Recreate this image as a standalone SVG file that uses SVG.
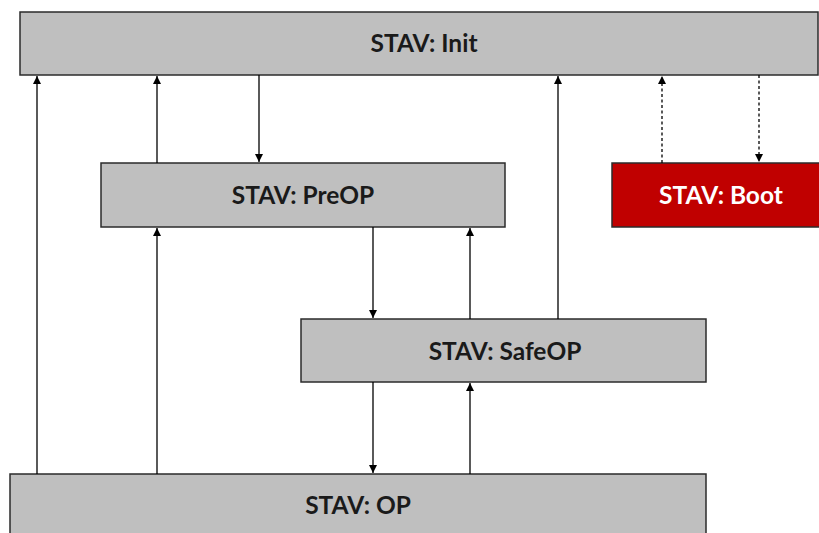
<svg xmlns="http://www.w3.org/2000/svg" width="819" height="533" viewBox="0 0 819 533">
<defs>
<marker id="ah" viewBox="0 0 8 10" refX="8" refY="5" markerWidth="8" markerHeight="10" markerUnits="userSpaceOnUse" orient="auto">
<path d="M0,1 L8,5 L0,9 Z" fill="#000"/>
</marker>
<style>
.box{fill:#BFBFBF;stroke:#2b2b2b;stroke-width:1.5}
.red{fill:#C00000;stroke:#2b2b2b;stroke-width:1.5}
.lbl{font-family:Lato,"Liberation Sans",sans-serif;font-weight:bold;font-size:24.5px;fill:#1a1a1a;text-anchor:middle}
.wl{fill:#fff}
.c{stroke:#000;stroke-width:1.3;fill:none;marker-end:url(#ah)}
.d{stroke-dasharray:3,2.5}
</style>
</defs>
<rect width="819" height="533" fill="#fff"/>
<g id="init"><rect class="box" x="20" y="12" width="798" height="63"/><text class="lbl" x="424" y="52">STAV: Init</text></g>
<g id="preop"><rect class="box" x="101" y="163" width="404" height="64"/><text class="lbl" x="303" y="204">STAV: PreOP</text></g>
<g id="boot"><rect class="red" x="612" y="163" width="210" height="64"/><text class="lbl wl" x="721" y="204">STAV: Boot</text></g>
<g id="safeop"><rect class="box" x="301" y="319" width="405" height="63"/><text class="lbl" x="505" y="360">STAV: SafeOP</text></g>
<g id="op"><rect class="box" x="10" y="474" width="696" height="64"/><text class="lbl" x="358" y="514">STAV: OP</text></g>
<g id="connectors">
<line class="c" x1="37" y1="474" x2="37" y2="76"/>
<line class="c" x1="157" y1="474" x2="157" y2="228"/>
<line class="c" x1="157" y1="163" x2="157" y2="76"/>
<line class="c" x1="259" y1="75" x2="259" y2="162"/>
<line class="c" x1="373" y1="227" x2="373" y2="318"/>
<line class="c" x1="373" y1="382" x2="373" y2="473"/>
<line class="c" x1="470" y1="319" x2="470" y2="228"/>
<line class="c" x1="470" y1="474" x2="470" y2="383"/>
<line class="c" x1="558" y1="319" x2="558" y2="76"/>
<line class="c d" x1="662" y1="163" x2="662" y2="76"/>
<line class="c d" x1="759" y1="75" x2="759" y2="162"/>
</g>
</svg>
